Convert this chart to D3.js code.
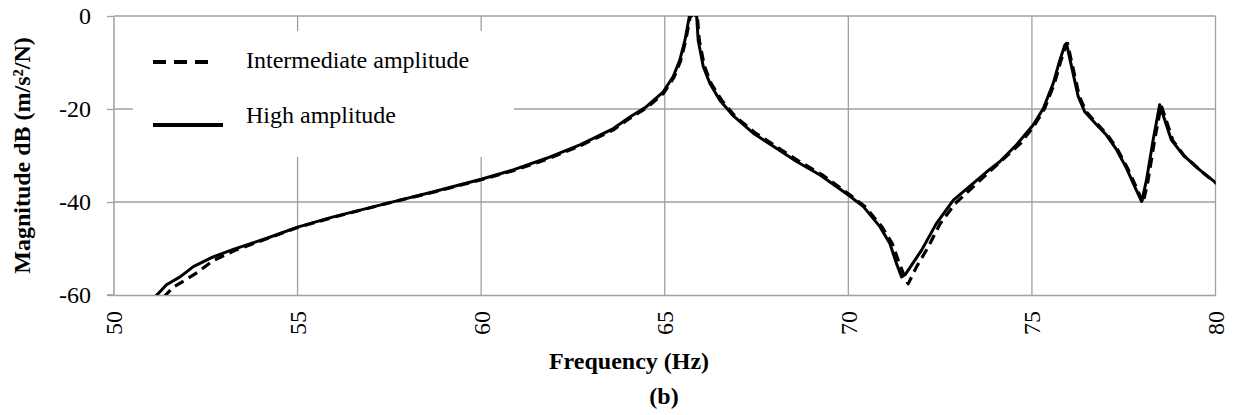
<!DOCTYPE html>
<html>
<head>
<meta charset="utf-8">
<script src="https://cdn.jsdelivr.net/npm/d3@7/dist/d3.min.js"></script>
<style>
  html, body { margin: 0; padding: 0; background: #fff; }
  svg { display: block; font-family: "Liberation Serif", "Times New Roman", serif; }
  svg text { font-family: "Liberation Serif", "Times New Roman", serif; }
</style>
</head>
<body>
<svg id="chart" width="1238" height="415"></svg>
<script>
// Frequency response magnitude, two excitation levels
const xTicks = [50, 55, 60, 65, 70, 75, 80];
const yTicks = [-60, -40, -20, 0];

// Intermediate amplitude (dashed)
const midFreq = [51.35, 51.6, 52.0, 52.3, 52.7, 53.3, 54.16, 55.0, 55.97, 57.43, 58.7, 60.0, 60.9, 61.8, 62.7, 63.6, 64.05, 64.5, 64.96, 65.25, 65.43, 65.57, 65.69, 65.78, 65.89, 65.94, 66.08, 66.27, 66.55, 66.92, 67.46, 68.1, 68.65, 69.28, 70.05, 70.47, 70.92, 71.2, 71.38, 71.55, 71.63, 71.86, 72.18, 72.49, 72.9, 73.8, 74.7, 75.06, 75.34, 75.61, 75.79, 75.93, 75.97, 76.11, 76.29, 76.47, 76.79, 77.06, 77.34, 77.61, 77.84, 78.03, 78.16, 78.34, 78.52, 78.66, 78.84, 79.15, 79.6, 80.03];
const midDb = [-60.5, -58.4, -56.5, -55.0, -52.6, -50.4, -47.9, -45.5, -43.3, -40.3, -37.9, -35.2, -33.2, -30.8, -27.9, -24.5, -22.0, -19.8, -16.7, -13.2, -9.7, -5.3, -0.3, 0.5, -0.3, -5.2, -10.8, -14.6, -18.1, -21.6, -25.1, -28.4, -31.2, -34.1, -38.5, -41.1, -45.4, -49.0, -53.0, -56.4, -57.6, -53.9, -49.6, -44.8, -40.4, -33.8, -27.3, -23.6, -20.0, -14.6, -9.6, -6.2, -5.9, -10.9, -17.2, -20.5, -23.3, -25.6, -28.8, -32.8, -36.8, -40.2, -35.5, -26.8, -19.2, -22.5, -26.8, -30.1, -33.3, -36.1];

// High amplitude (solid)
const highFreq = [51.0, 51.12, 51.43, 51.8, 52.16, 52.7, 53.25, 54.16, 55.0, 55.97, 57.43, 58.7, 60.0, 60.87, 61.78, 62.69, 63.6, 64.05, 64.5, 64.96, 65.23, 65.41, 65.55, 65.67, 65.76, 65.87, 65.91, 66.05, 66.23, 66.5, 66.87, 67.41, 68.05, 68.59, 69.23, 70.0, 70.41, 70.86, 71.13, 71.31, 71.45, 71.55, 72.0, 72.4, 72.86, 73.77, 74.13, 74.58, 75.04, 75.31, 75.58, 75.76, 75.9, 75.94, 76.08, 76.26, 76.44, 76.76, 77.03, 77.31, 77.58, 77.8, 77.99, 78.12, 78.3, 78.48, 78.62, 78.8, 79.12, 79.57, 80.03];
const highDb = [-61.2, -60.4, -57.8, -56.1, -53.9, -51.8, -50.2, -47.8, -45.4, -43.2, -40.3, -37.8, -35.1, -33.1, -30.6, -27.7, -24.2, -21.7, -19.5, -16.3, -13.0, -9.5, -5.2, -0.1, 0.6, -0.1, -5.2, -10.9, -14.5, -18.1, -21.5, -25.2, -28.5, -31.3, -34.2, -38.5, -41.0, -45.3, -48.9, -53.2, -56.1, -55.6, -50.3, -44.6, -39.6, -33.5, -31.3, -27.7, -23.4, -19.9, -14.5, -9.5, -6.2, -5.9, -10.9, -17.3, -20.6, -23.4, -25.6, -28.8, -32.8, -36.7, -39.9, -35.3, -26.7, -19.1, -22.4, -26.7, -29.9, -33.1, -36.0];

const seriesNames = ["Intermediate amplitude", "High amplitude"];

const svg = d3.select("#chart");
const plot = { left: 114, right: 1215.5, top: 16, bottom: 295 };

const x = d3.scaleLinear().domain([50, 80]).range([plot.left, plot.right]);
const y = d3.scaleLinear().domain([-60, 0]).range([plot.bottom, plot.top]);

const gridColor = "#a0a0a0";
const plainNumber = d => String(d);

// grid lines
const grid = svg.append("g");
grid.selectAll("line.v").data(xTicks.slice(1)).join("line")
  .attr("x1", d => x(d)).attr("x2", d => x(d))
  .attr("y1", plot.top).attr("y2", plot.bottom)
  .attr("stroke", gridColor).attr("stroke-width", 1.3);
grid.selectAll("line.h").data(yTicks.slice(1)).join("line")
  .attr("x1", plot.left).attr("x2", plot.right)
  .attr("y1", d => y(d)).attr("y2", d => y(d))
  .attr("stroke", gridColor).attr("stroke-width", 1.3);

// y axis with outward ticks
const yAxis = d3.axisLeft(y).tickValues(yTicks).tickSize(7).tickFormat(plainNumber);
const yg = svg.append("g").attr("transform", `translate(${plot.left},0)`).call(yAxis)
  .attr("font-family", null).attr("font-size", null);
yg.select(".domain").attr("stroke", gridColor).attr("stroke-width", 1.5).attr("d", `M-7,${y(-60)}H0V${y(0)}`);
yg.selectAll(".tick line").attr("stroke", gridColor).attr("stroke-width", 1.3);
yg.selectAll(".tick text").attr("font-size", 24).attr("fill", "#000")
  .attr("x", -23).attr("dy", "0.33em");

// x axis: baseline plus rotated labels
const xAxis = d3.axisBottom(x).tickValues(xTicks).tickSize(0).tickFormat(plainNumber);
const xg = svg.append("g").attr("transform", `translate(0,${plot.bottom})`).call(xAxis)
  .attr("font-family", null).attr("font-size", null);
xg.select(".domain").attr("stroke", gridColor).attr("stroke-width", 1.5);
xg.selectAll(".tick text")
  .attr("font-size", 24).attr("fill", "#000")
  .attr("transform", "rotate(-90)")
  .attr("text-anchor", "end")
  .attr("x", -16).attr("y", 0).attr("dy", "0.33em");

// legend box (white, over the grid)
const legend = svg.append("g");
legend.append("rect").attr("x", 133).attr("y", 31).attr("width", 381).attr("height", 126).attr("fill", "#fff");
legend.append("line").attr("x1", 153).attr("x2", 215).attr("y1", 62).attr("y2", 62)
  .attr("stroke", "#000").attr("stroke-width", 4).attr("stroke-dasharray", "13,8");
legend.append("line").attr("x1", 153).attr("x2", 223).attr("y1", 125).attr("y2", 125)
  .attr("stroke", "#000").attr("stroke-width", 4);
legend.append("text").attr("x", 246).attr("y", 68).attr("font-size", 24).text(seriesNames[0]);
legend.append("text").attr("x", 246).attr("y", 123).attr("font-size", 24).text(seriesNames[1]);

// curves clipped to the plot area
svg.append("defs").append("clipPath").attr("id", "plotClip")
  .append("rect").attr("x", plot.left).attr("y", plot.top)
  .attr("width", plot.right - plot.left).attr("height", plot.bottom - plot.top);

const line = d3.line().x(d => x(d[0])).y(d => y(d[1])).curve(d3.curveLinear);
const midData = d3.zip(midFreq, midDb);
const highData = d3.zip(highFreq, highDb);

const curves = svg.append("g").attr("clip-path", "url(#plotClip)");
curves.append("path").datum(midData).attr("d", line)
  .attr("fill", "none").attr("stroke", "#000").attr("stroke-width", 3.2)
  .attr("stroke-dasharray", "10,6").attr("stroke-linejoin", "round");
curves.append("path").datum(highData).attr("d", line)
  .attr("fill", "none").attr("stroke", "#000").attr("stroke-width", 3)
  .attr("stroke-linejoin", "round");

// axis titles and caption
svg.append("text").attr("x", 629).attr("y", 369).attr("text-anchor", "middle")
  .attr("font-size", 24).attr("font-weight", "bold").text("Frequency (Hz)");
svg.append("text").attr("transform", `translate(30,${(plot.top + plot.bottom) / 2}) rotate(-90)`)
  .attr("text-anchor", "middle").attr("font-size", 24).attr("font-weight", "bold")
  .text("Magnitude dB (m/s²/N)");
svg.append("text").attr("x", 664).attr("y", 404).attr("text-anchor", "middle")
  .attr("font-size", 24).attr("font-weight", "bold").text("(b)");
</script>
</body>
</html>
